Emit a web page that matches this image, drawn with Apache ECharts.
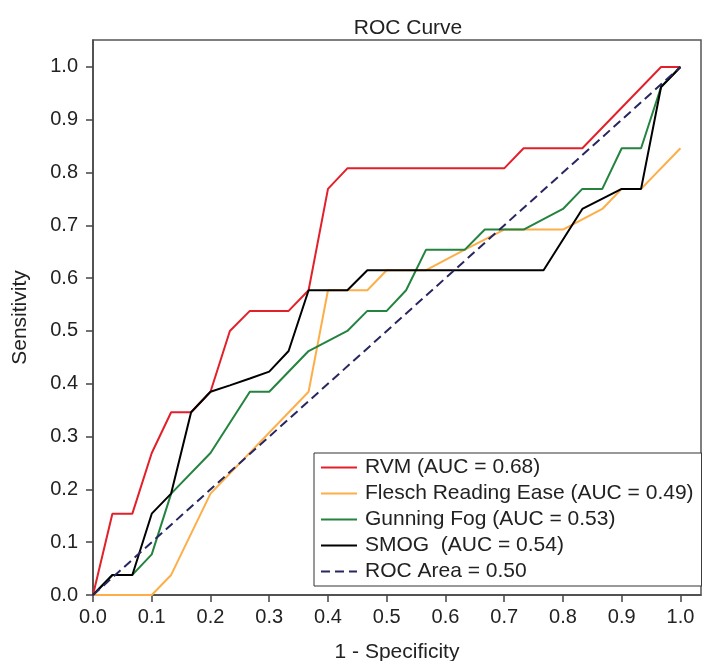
<!DOCTYPE html>
<html>
<head>
<meta charset="utf-8">
<script src="https://cdn.jsdelivr.net/npm/echarts@6/dist/echarts.min.js"></script>
<style>
  html, body { margin: 0; padding: 0; background: #fff; }
  #chart { width: 702px; height: 661px; }
</style>
</head>
<body>
<div id="chart"></div>
<script>
// values
const legendNames = [
  'RVM (AUC = 0.68)',
  'Flesch Reading Ease (AUC = 0.49)',
  'Gunning Fog (AUC = 0.53)',
  'SMOG  (AUC = 0.54)',
  'ROC Area = 0.50'
];

const rvmX = [0, 0.033, 0.067, 0.1, 0.133, 0.167, 0.2, 0.233, 0.267, 0.333, 0.367, 0.4, 0.433, 0.7, 0.733, 0.833, 0.967, 1.0];
const rvmY = [0, 0.154, 0.154, 0.269, 0.346, 0.346, 0.385, 0.5, 0.538, 0.538, 0.577, 0.769, 0.808, 0.808, 0.846, 0.846, 1.0, 1.0];

const fleschX = [0, 0.1, 0.133, 0.2, 0.367, 0.4, 0.467, 0.5, 0.567, 0.633, 0.7, 0.8, 0.867, 0.9, 0.933, 1.0];
const fleschY = [0, 0, 0.038, 0.192, 0.385, 0.577, 0.577, 0.615, 0.615, 0.654, 0.692, 0.692, 0.731, 0.769, 0.769, 0.846];

const fogX = [0, 0.033, 0.067, 0.1, 0.133, 0.2, 0.267, 0.3, 0.367, 0.433, 0.467, 0.5, 0.533, 0.567, 0.633, 0.667, 0.733, 0.8, 0.833, 0.867, 0.9, 0.933, 0.967, 1.0];
const fogY = [0, 0.038, 0.038, 0.077, 0.192, 0.269, 0.385, 0.385, 0.462, 0.5, 0.538, 0.538, 0.577, 0.654, 0.654, 0.692, 0.692, 0.731, 0.769, 0.769, 0.846, 0.846, 0.962, 1.0];

const smogX = [0, 0.033, 0.067, 0.1, 0.133, 0.167, 0.2, 0.233, 0.267, 0.3, 0.333, 0.367, 0.433, 0.467, 0.767, 0.833, 0.9, 0.933, 0.967, 1.0];
const smogY = [0, 0.038, 0.038, 0.154, 0.192, 0.346, 0.385, 0.397, 0.41, 0.423, 0.462, 0.577, 0.577, 0.615, 0.615, 0.731, 0.769, 0.769, 0.962, 1.0];

const chanceX = [0, 1];
const chanceY = [0, 1];

const tickValues = [0, 0.1, 0.2, 0.3, 0.4, 0.5, 0.6, 0.7, 0.8, 0.9, 1.0];

const pairs = (xs, ys) => xs.map((x, i) => [x, ys[i]]);

const font = 'Liberation Sans, Arial, sans-serif';
const textColor = '#222';

const lineSeries = (name, xs, ys, color, type) => ({
  name: name,
  type: 'line',
  data: pairs(xs, ys),
  symbol: 'none',
  silent: true,
  animation: false,
  lineStyle: { color: color, width: 2, type: type || 'solid', dashOffset: 0 },
  itemStyle: { color: color }
});

const chart = echarts.init(document.getElementById('chart'));
chart.setOption({
  backgroundColor: '#fff',
  animation: false,
  textStyle: { fontFamily: font },
  title: {
    text: 'ROC Curve',
    left: 403,
    textAlign: 'center',
    top: 13,
    textStyle: { fontFamily: font, fontSize: 21, fontWeight: 'normal', color: textColor }
  },
  grid: {
    left: 93, right: 1, top: 40, bottom: 66,
    outerBoundsMode: 'none',
    containLabel: false,
    show: true,
    borderColor: '#555',
    borderWidth: 1.5
  },
  legend: {
    data: legendNames,
    orient: 'vertical',
    left: 314,
    top: 453,
    padding: [4, 8, 4, 6],
    itemWidth: 36,
    itemHeight: 20,
    itemGap: 5,
    backgroundColor: '#fff',
    borderColor: '#333',
    borderWidth: 1,
    selectedMode: false,
    itemStyle: { opacity: 0, borderWidth: 0 },
    textStyle: { fontFamily: font, fontSize: 21, color: textColor, padding: [0, 0, 0, 3] }
  },
  xAxis: {
    type: 'value',
    min: 0,
    max: 1.035,
    interval: 0.1,
    name: '1 - Specificity',
    nameLocation: 'middle',
    nameGap: 47,
    nameTextStyle: { fontFamily: font, fontSize: 21, color: textColor },
    splitLine: { show: false },
    axisLine: { onZero: false, lineStyle: { color: '#444', width: 1.5 } },
    axisTick: { show: true, inside: false, length: 7, customValues: tickValues, lineStyle: { color: '#444', width: 1.5 } },
    axisLabel: {
      margin: 12,
      customValues: tickValues,
      fontFamily: font, fontSize: 20, color: textColor,
      formatter: v => v.toFixed(1)
    }
  },
  yAxis: {
    type: 'value',
    min: 0,
    max: 1.051,
    interval: 0.1,
    name: 'Sensitivity',
    nameLocation: 'middle',
    nameGap: 62,
    nameTextStyle: { fontFamily: font, fontSize: 21, color: textColor },
    splitLine: { show: false },
    axisLine: { onZero: false, lineStyle: { color: '#444', width: 1.5 } },
    axisTick: { show: true, inside: false, length: 7, customValues: tickValues, lineStyle: { color: '#444', width: 1.5 } },
    axisLabel: {
      margin: 15,
      customValues: tickValues,
      fontFamily: font, fontSize: 20, color: textColor,
      formatter: v => v.toFixed(1)
    }
  },
  series: [
    lineSeries(legendNames[0], rvmX, rvmY, '#E3202A'),
    lineSeries(legendNames[1], fleschX, fleschY, '#FDAE48'),
    lineSeries(legendNames[2], fogX, fogY, '#23833F'),
    lineSeries(legendNames[3], smogX, smogY, '#000000'),
    lineSeries(legendNames[4], chanceX, chanceY, '#27265F', [9, 5])
  ]
});
</script>
</body>
</html>
